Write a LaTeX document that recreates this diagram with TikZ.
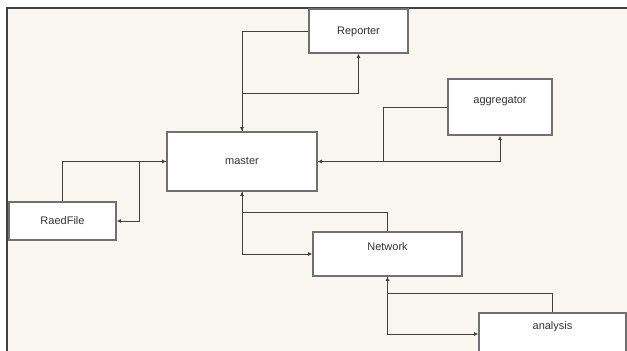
\documentclass[tikz,border=0pt]{standalone}
\usepackage{fontspec}
\setmainfont{Liberation Sans}
\usetikzlibrary{arrows.meta,calc}
\definecolor{paper}{HTML}{F8F6EF}
\definecolor{edge}{HTML}{404040}
\definecolor{rim}{HTML}{707070}
\tikzset{
  box/.style={draw=rim, line width=1.6pt, fill=white, inner sep=0pt,
    font=\fontsize{11}{13}\selectfont, text=black!80, text height=8pt, text depth=2pt},
  link/.style={draw=edge, line width=1pt, -{Latex[length=4pt,width=4pt]}},
}
\begin{document}
\begin{tikzpicture}[x=1pt,y=-1pt]
\useasboundingbox (0,0) rectangle (627,351);
\clip (0,0) rectangle (627,351);
% sheet
\fill[paper] (7,8) rectangle (628,352);
\draw[edge, line width=1.2pt] (7,352) -- (7,8) -- (628,8);

% modules
\node[box, minimum width=150pt, minimum height=59pt] (master) at (242,161.5) {master};
\node[box, minimum width=99pt, minimum height=44pt] (rep) at (358.5,31) {Reporter};
\node[box, minimum width=104pt, minimum height=56pt, text depth=16pt] (agg) at (500,107) {aggregator};
\node[box, minimum width=107pt, minimum height=38pt] (raed) at (62.5,221) {RaedFile};
\node[box, minimum width=149pt, minimum height=44pt, text depth=16pt] (net) at (387.5,254) {Network};
\node[box, minimum width=147pt, minimum height=42pt, text depth=18pt] (ana) at (552.5,334) {analysis};

% links
\draw[link] (rep.west) -| (master.north);
\draw[link] (master.north) -- ++(0,-38) -| (rep.south);
\draw[link] (agg.west) -| ($(master.east)+(66,0)$) -- (master.east);
\draw[link] (master.east) -| (agg.south);
\draw[link] (raed.north) |- (master.west);
\draw[link] (master.west) -- ++(-27,0) |- (raed.east);
\draw[link] (net.north) -- ++(0,-19) -| (master.south);
\draw[link] (master.south) |- (net.west);
\draw[link] (ana.north) -- ++(0,-19) -| (net.south);
\draw[link] (net.south) |- (ana.west);
\end{tikzpicture}
\end{document}
